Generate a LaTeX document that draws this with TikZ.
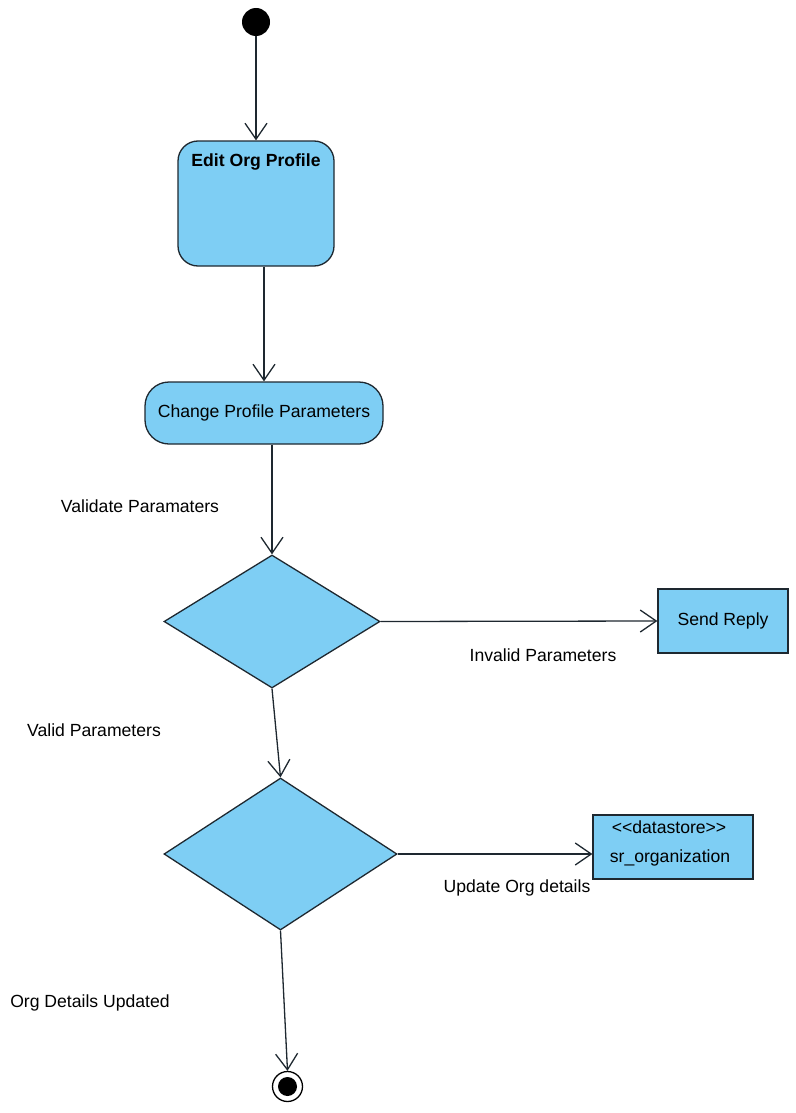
\documentclass[tikz,border=0pt]{standalone}
\usepackage{fontspec}
\setmainfont{Liberation Sans}
\usetikzlibrary{shapes.geometric,arrows.meta,calc}
\definecolor{actfill}{RGB}{126,206,244}
\definecolor{edge}{RGB}{30,40,48}
\begin{document}
\begin{tikzpicture}[x=1pt,y=-1pt,
  every node/.style={font=\fontsize{17.6}{20}\selectfont},
  flow/.style={draw=edge,line width=1.3pt,-{Straight Barb[length=16pt,width=22pt,line width=1.3pt]}},
  action/.style={draw=edge,line width=1.3pt,fill=actfill,rectangle,inner sep=0pt},
  decision/.style={draw=edge,line width=1.3pt,fill=actfill,diamond,inner sep=0pt},
  tag/.style={inner sep=0pt}]
\useasboundingbox (0,0) rectangle (795,1113);

% initial node
\node[circle,fill=black,minimum size=28pt,inner sep=0pt] (start) at (256,22) {};

% actions
\node[action,rounded corners=20pt,minimum width=156pt,minimum height=125pt] (edit) at (256,203.5) {};
\node[tag,font=\fontsize{17.6}{20}\selectfont\bfseries] (editlbl) at (256,162) {Edit Org Profile};
\node[action,rounded corners=24pt,minimum width=238pt,minimum height=62pt] (change) at (264,413) {Change Profile Parameters};

% decisions
\node[decision,minimum width=216pt,minimum height=133pt] (d1) at (272,621.5) {};
\node[decision,minimum width=233pt,minimum height=152pt] (d2) at (280.5,854) {};

% outcomes
\node[action,minimum width=130pt,minimum height=64pt] (reply) at (723,621) {Send Reply};
\node[action,minimum width=160pt,minimum height=64pt] (store) at (673,847) {};
\node[tag] (storetype) at (669,827) {<{}<datastore>{}>};
\node[tag] (storename) at (670,858) {sr\_organization};

% final node
\node[circle,draw=black,line width=1.3pt,minimum size=30pt,inner sep=0pt] (final) at (287.5,1086.5) {};
\node[circle,fill=black,minimum size=19pt,inner sep=0pt] (finaldot) at (final.center) {};

% flows
\draw[flow] (start) -- (edit.north);
\draw[flow] (edit.south -| change.north) -- (change.north);
\draw[flow] (change.south -| d1.north) -- (d1.north);
\draw[flow] (d1.east) -- (reply.west);
\draw[flow] (d1.south) -- (d2.north);
\draw[flow] (d2.east) -- (store.west |- d2.east);
\draw[flow] (d2.south) -- (final.north);

% guard labels
\node[tag] (l1) at (140,506) {Validate Paramaters};
\node[tag] (l2) at (543,655) {Invalid Parameters};
\node[tag] (l3) at (94,730) {Valid Parameters};
\node[tag] (l4) at (517,888) {Update Org details};
\node[tag] (l5) at (90,1003) {Org Details Updated};
\end{tikzpicture}
\end{document}
